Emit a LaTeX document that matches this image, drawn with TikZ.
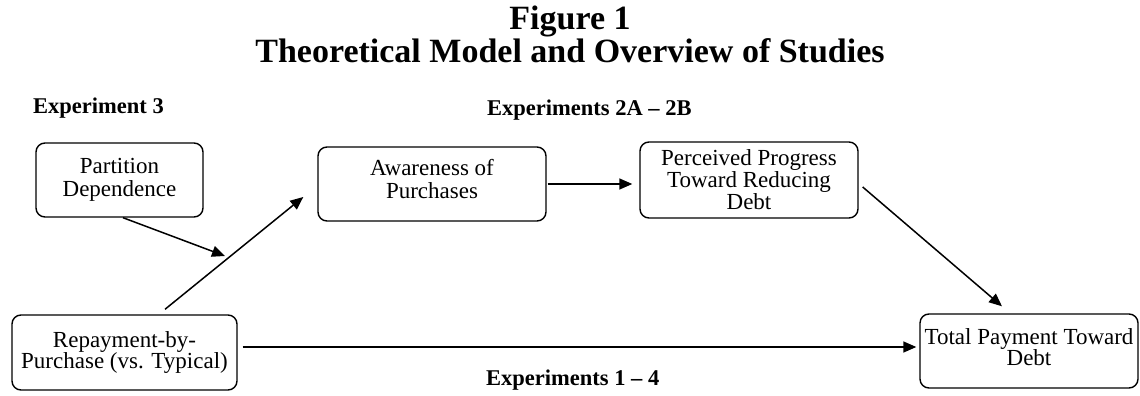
\documentclass[tikz,border=0pt]{standalone}
\usepackage{fontspec}
\setmainfont{Liberation Serif}
\usetikzlibrary{arrows.meta,calc}
\begin{document}
\begin{tikzpicture}[x=1pt,y=-1pt,
  box/.style={draw,line width=1.4pt,rounded corners=9pt,align=center,inner sep=0pt,
    font=\fontsize{23}{20.5}\selectfont},
  loose/.style={font=\fontsize{23}{23}\selectfont},
  arr/.style={line width=1.5pt,-{Triangle[length=13pt,width=11pt]}},
  lab/.style={font=\fontsize{22.5}{24}\selectfont\bfseries,anchor=base west,inner sep=0pt},
  ttl/.style={font=\fontsize{34}{28}\selectfont\bfseries,align=center,inner sep=0pt}]
\useasboundingbox (0,0) rectangle (1140,396);
% title
\node[ttl,anchor=north] (t1) at (570,6) {Figure 1\\Theoretical Model and Overview of Studies};
% labels
\node[lab] (l3) at (33,113) {Experiment 3};
\node[lab] (l2) at (487,115) {Experiments 2A – 2B};
\node[lab] (l1) at (486,385) {Experiments 1 – 4};
% boxes
\node[box,loose,minimum width=167pt,minimum height=74pt] (pd) at (119.5,180) {Partition\\Dependence};
\node[box,loose,minimum width=228pt,minimum height=74pt,text depth=10pt] (aw) at (432,184) {Awareness of\\Purchases};
\node[box,minimum width=218pt,minimum height=76pt] (pp) at (749,180) {Perceived Progress\\Toward Reducing\\Debt};
\node[box,minimum width=225pt,minimum height=75pt] (rep) at (124.5,352.5) {Repayment-by-\\Purchase (vs. Typical)};
\node[box,minimum width=218pt,minimum height=74pt,text depth=8pt] (tot) at (1029,351) {Total Payment Toward\\Debt};
% connector end points
\coordinate (r1) at ($(rep.north)+(40.5,-5)$);
\coordinate (a1) at ($(aw.west)+(-14,13)$);
\coordinate (p1) at ($(pd.south)+(3.5,0)$);
\coordinate (m1) at (225,256);
\coordinate (p2) at ($(pp.east)+(4,7)$);
\coordinate (t3) at ($(tot.north)+(-27,-7)$);
% connectors
\draw[arr] (r1) -- (a1);
\draw[arr] (p1) -- (m1);
\draw[arr] ($(aw.east)+(1,0)$) -- ($(pp.west)+(-7,4)$);
\draw[arr] (p2) -- (t3);
\draw[arr] ($(rep.east)+(5,-5.5)$) -- ($(tot.west)+(-3,-4)$);
\end{tikzpicture}
\end{document}
